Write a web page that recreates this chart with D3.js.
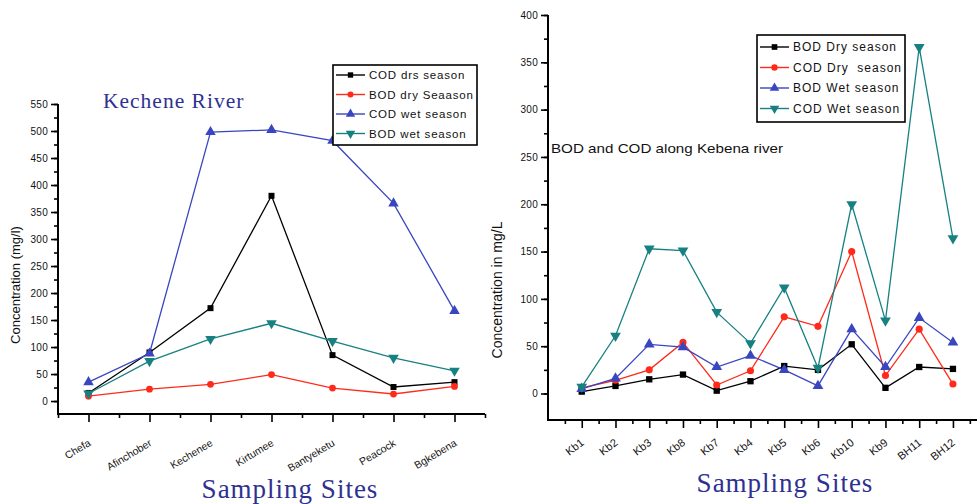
<!DOCTYPE html>
<html>
<head>
<meta charset="utf-8">
<script src="https://cdn.jsdelivr.net/npm/d3@7"></script>
<style>
  body { margin: 0; background: #fff; }
  svg { display: block; }
</style>
</head>
<body>
<svg></svg>
<script>
// left chart - Kechene river
const leftSites = ['Chefa', 'Afinchober', 'Kechenee', 'Kirtumee', 'Bantyeketu', 'Peacock', 'Bgkebena'];
const leftCodDry = [15, 90, 172, 380, 85, 26, 35];
const leftBodDry = [9, 22, 31, 49, 24, 13, 27];
const leftCodWet = [35, 88, 498, 502, 482, 366, 167];
const leftBodWet = [14, 74, 115, 144, 111, 80, 56];
const leftTicks = [0, 50, 100, 150, 200, 250, 300, 350, 400, 450, 500, 550];
const leftLegend = ['COD drs season', 'BOD dry Seaason', 'COD wet season', 'BOD wet season'];

// right chart - Kebena river
const rightSites = ['Kb1', 'Kb2', 'Kb3', 'Kb8', 'Kb7', 'Kb4', 'Kb5', 'Kb6', 'Kb10', 'Kb9', 'BH11', 'BH12'];
const rightBodDry = [2, 8, 15, 20, 3, 13, 29, 25, 52, 6, 28, 26];
const rightCodDry = [6, 14, 25, 54, 9, 24, 81, 71, 150, 19, 68, 10];
const rightBodWet = [5, 16, 52, 49, 28, 40, 25, 8, 68, 28, 80, 54];
const rightCodWet = [7, 61, 153, 151, 86, 53, 112, 27, 200, 77, 366, 164];
const rightTicks = [0, 50, 100, 150, 200, 250, 300, 350, 400];
const rightLegend = ['BOD Dry season', 'COD Dry  season', 'BOD Wet season', 'COD Wet season'];

const WIDTH = 977;
const HEIGHT = 504;
const SANS = '"Liberation Sans", Arial, sans-serif';
const SERIF = '"Liberation Serif", "Times New Roman", serif';
const NAVY = '#2e3192';

const colors = ['#000000', '#ff2a1a', '#3a46c0', '#178181'];
const shapes = [d3.symbolSquare, d3.symbolCircle, d3.symbolTriangle, 'down'];

const svg = d3.select('svg')
  .attr('width', WIDTH)
  .attr('height', HEIGHT);

function marker(g, shape, color, x, y, size) {
  if (shape === 'down') {
    g.append('path')
      .attr('d', d3.symbol(d3.symbolTriangle, size)())
      .attr('transform', `translate(${x},${y}) rotate(180)`)
      .attr('fill', color);
  } else {
    g.append('path')
      .attr('d', d3.symbol(shape, size)())
      .attr('transform', `translate(${x},${y})`)
      .attr('fill', color);
  }
}

function drawPanel(cfg) {
  const g = svg.append('g');

  const x = d3.scaleLinear().domain(cfg.xDomain).range(cfg.xRange);
  const y = d3.scaleLinear().domain(cfg.yDomain).range(cfg.yRange);

  // y axis
  const minorY = d3.range(0, cfg.yDomain[1] + 1, 25);
  g.append('g')
    .attr('transform', `translate(${cfg.xRange[0]},0)`)
    .call(d3.axisLeft(y).tickValues(minorY).tickSize(4).tickFormat(''));
  g.append('g')
    .attr('transform', `translate(${cfg.xRange[0]},0)`)
    .call(d3.axisLeft(y).tickValues(cfg.yTicks).tickSize(7).tickPadding(3))
    .call(a => a.selectAll('text')
      .attr('font-size', cfg.tickFont)
      .attr('font-family', SANS)
      .attr('letter-spacing', 0.3)
      .attr('fill', '#111'));
  g.selectAll('.domain').remove();
  g.append('line')
    .attr('x1', cfg.xRange[0]).attr('x2', cfg.xRange[0])
    .attr('y1', y(cfg.yDomain[1])).attr('y2', y(cfg.yDomain[0]))
    .attr('stroke', '#000').attr('stroke-width', 2);

  // x axis
  const xMinor = d3.range(cfg.xDomain[0], cfg.xDomain[1] + 0.01, 0.5).filter(d => !Number.isInteger(d));
  g.append('g')
    .attr('transform', `translate(0,${cfg.yRange[0]})`)
    .call(d3.axisBottom(x).tickValues(xMinor).tickSize(4).tickFormat(''))
    .call(a => a.select('.domain').remove());
  g.append('g')
    .attr('transform', `translate(0,${cfg.yRange[0]})`)
    .call(d3.axisBottom(x).tickValues(d3.range(cfg.sites.length)).tickSize(8).tickFormat(''))
    .call(a => a.select('.domain').remove());
  g.append('line')
    .attr('x1', cfg.xRange[0] - 1).attr('x2', cfg.xRange[1])
    .attr('y1', cfg.yRange[0]).attr('y2', cfg.yRange[0])
    .attr('stroke', '#000').attr('stroke-width', 2);
  g.selectAll('.tick line').attr('stroke', '#000').attr('stroke-width', 1.6);

  g.selectAll('.site')
    .data(cfg.sites)
    .join('text')
    .attr('class', 'site')
    .attr('transform', (d, i) => `translate(${x(i) + cfg.labelDx},${cfg.yRange[0] + cfg.labelDy}) rotate(${cfg.labelRot})`)
    .attr('text-anchor', 'end')
    .attr('font-family', SANS)
    .attr('font-size', cfg.siteFont)
    .attr('fill', '#111')
    .text(d => d);

  // series
  const line = d3.line().x((d, i) => x(i)).y(d => y(d));
  cfg.series.forEach((s, k) => {
    g.append('path')
      .datum(s)
      .attr('d', line)
      .attr('fill', 'none')
      .attr('stroke', colors[k])
      .attr('stroke-width', 1.3);
  });
  cfg.series.forEach((s, k) => {
    s.forEach((v, i) => marker(g, shapes[k], colors[k], x(i), y(v), cfg.markerSize[k]));
  });

  // legend
  const lg = g.append('g').attr('transform', `translate(${cfg.legend.x},${cfg.legend.y})`);
  lg.append('rect')
    .attr('width', cfg.legend.w).attr('height', cfg.legend.h)
    .attr('fill', '#fff').attr('stroke', '#000').attr('stroke-width', 1.6);
  cfg.legendLabels.forEach((t, k) => {
    const ly = cfg.legend.top + k * cfg.legend.step;
    lg.append('line')
      .attr('x1', 3).attr('x2', 32).attr('y1', ly).attr('y2', ly)
      .attr('stroke', colors[k]).attr('stroke-width', 1.4);
    marker(lg, shapes[k], colors[k], 17.5, ly, cfg.markerSize[k] * 0.8);
    lg.append('text')
      .attr('x', 36).attr('y', ly + cfg.legend.font * 0.36)
      .attr('font-family', SANS)
      .attr('font-size', cfg.legend.font)
      .attr('letter-spacing', cfg.legend.spacing)
      .attr('fill', '#111')
      .attr('xml:space', 'preserve')
      .text(t);
  });

  // axis titles
  g.append('text')
    .attr('transform', `translate(${cfg.yTitle.x},${cfg.yTitle.y}) rotate(-90)`)
    .attr('text-anchor', 'middle')
    .attr('font-family', SANS)
    .attr('font-size', cfg.yTitle.font)
    .attr('fill', '#111')
    .text(cfg.yTitle.text);

  g.append('text')
    .attr('x', cfg.xTitle.x).attr('y', cfg.xTitle.y)
    .attr('text-anchor', 'middle')
    .attr('font-family', SERIF)
    .attr('font-size', 27)
    .attr('letter-spacing', 1)
    .attr('fill', NAVY)
    .text('Sampling Sites');

  return g;
}

const left = drawPanel({
  sites: leftSites,
  series: [leftCodDry, leftBodDry, leftCodWet, leftBodWet],
  xDomain: [-0.5, 6.5], xRange: [58, 485],
  yDomain: [-24, 550], yRange: [414, 104],
  yTicks: leftTicks,
  tickFont: 10,
  siteFont: 10.5,
  labelDx: 3, labelDy: 31, labelRot: -31,
  markerSize: [36, 36, 48, 48],
  legend: { x: 333, y: 65, w: 144, h: 80, top: 10, step: 19.5, font: 11.5, spacing: 0.8 },
  legendLabels: leftLegend,
  yTitle: { x: 20, y: 285, font: 13, text: 'Concentration (mg/l)' },
  xTitle: { x: 290, y: 498 }
});

left.append('text')
  .attr('x', 103).attr('y', 108)
  .attr('font-family', SERIF)
  .attr('font-size', 21.5)
  .attr('letter-spacing', 1)
  .attr('fill', NAVY)
  .text('Kechene River');

const right = drawPanel({
  sites: rightSites,
  series: [rightBodDry, rightCodDry, rightBodWet, rightCodWet],
  xDomain: [-1, 12.75], xRange: [548, 1012],
  yDomain: [-28, 400], yRange: [420, 15],
  yTicks: rightTicks,
  tickFont: 10,
  siteFont: 11,
  labelDx: 3, labelDy: 24, labelRot: -38,
  markerSize: [40, 40, 50, 50],
  legend: { x: 757, y: 35, w: 148, h: 87, top: 12, step: 20.5, font: 12, spacing: 1 },
  legendLabels: rightLegend,
  yTitle: { x: 502, y: 290, font: 14, text: 'Concentration in mg/L' },
  xTitle: { x: 785, y: 492 }
});

right.append('text')
  .attr('x', 551).attr('y', 153)
  .attr('font-family', SANS)
  .attr('font-size', 13.5)
  .attr('textLength', 232)
  .attr('lengthAdjust', 'spacingAndGlyphs')
  .attr('fill', '#111')
  .text('BOD and COD along Kebena river');
</script>
</body>
</html>
